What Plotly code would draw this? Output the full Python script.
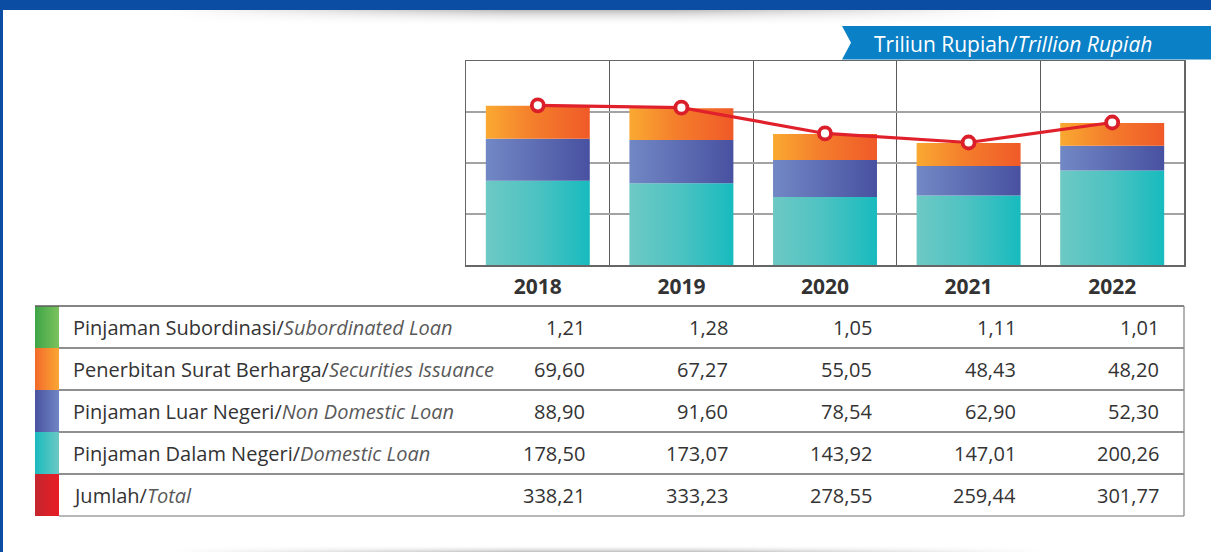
import base64
import plotly.graph_objects as go

# ---------------- data ----------------
years = ["2018", "2019", "2020", "2021", "2022"]
subordinated = [1.21, 1.28, 1.05, 1.11, 1.01]
securities = [69.60, 67.27, 55.05, 48.43, 48.20]
non_domestic = [88.90, 91.60, 78.54, 62.90, 52.30]
domestic = [178.50, 173.07, 143.92, 147.01, 200.26]
total = [338.21, 333.23, 278.55, 259.44, 301.77]

row_labels_id = ["Pinjaman Subordinasi/", "Penerbitan Surat Berharga/",
                 "Pinjaman Luar Negeri/", "Pinjaman Dalam Negeri/", "Jumlah/"]
row_labels_en = ["Subordinated Loan", "Securities Issuance",
                 "Non Domestic Loan", "Domestic Loan", "Total"]
unit_id = "Triliun Rupiah/"
unit_en = "Trillion Rupiah"

# ---------------- style ----------------
W, H = 1211, 552
FONT = "Open Sans"
TXT = "#333333"
TXT_I = "#595959"
HALF = 0.362

def px(x):
    return x / W

def py(y):
    return 1 - y / H

bar_scales = {
    "dom": [[0, "#6DC9C4"], [0.5, "#4CC2C2"], [1, "#17BBBE"]],
    "non": [[0, "#7288C5"], [1, "#4851A0"]],
    "sec": [[0, "#FAA932"], [0.45, "#F47E2C"], [1, "#F05A28"]],
    "sub": [[0, "#5DB85A"], [1, "#5DB85A"]],
}

fig = go.Figure()

def seg(i, y0, y1, cs):
    xs = [i - HALF, i + HALF, i + HALF, i - HALF, i - HALF]
    ys = [y0, y0, y1, y1, y0]
    fig.add_trace(go.Scatter(
        x=xs, y=ys, fill="toself", mode="lines", line=dict(width=0),
        fillcolor=cs[-1][1],
        fillgradient=dict(type="horizontal", colorscale=cs),
        hoverinfo="skip", showlegend=False))

for i in range(len(years)):
    b0 = 0
    b1 = b0 + domestic[i]
    b2 = b1 + non_domestic[i]
    b3 = b2 + securities[i]
    b4 = b3 + subordinated[i]
    seg(i, b0, b1, bar_scales["dom"])
    seg(i, b1, b2, bar_scales["non"])
    seg(i, b2, b3, bar_scales["sec"])
    seg(i, b3, b4, bar_scales["sub"])

fig.add_trace(go.Scatter(
    x=list(range(len(years))), y=total, mode="lines+markers",
    line=dict(color="#E0202A", width=3.2),
    marker=dict(size=12, color="white", line=dict(color="#DA1F2A", width=3.8)),
    showlegend=False, hoverinfo="skip"))

# ---------------- axes ----------------
fig.update_xaxes(
    domain=[px(466), px(1184)], range=[-0.5, 4.5],
    tickvals=list(range(len(years))), ticktext=years,
    tickfont=dict(family=FONT, size=21, color="#333333", weight="bold"),
    ticks="outside", ticklen=2, tickcolor="rgba(0,0,0,0)",
    showgrid=False, zeroline=False,
    showline=True, mirror=True, linecolor="#666666", linewidth=1.5,
    minor=dict(tickvals=[0.5, 1.5, 2.5, 3.5], showgrid=True,
               gridcolor="#5a5a5a", gridwidth=1.3, ticks=""),
    fixedrange=True,
)
fig.update_yaxes(
    domain=[py(265), py(61)], range=[0, 432], dtick=108,
    showticklabels=False, showgrid=True, gridcolor="#a3a3a3", gridwidth=2,
    zeroline=False, showline=True, mirror=True, linecolor="#666666",
    linewidth=1.5, fixedrange=True,
)

shapes = []
annotations = []

# frame
shapes.append(dict(type="rect", xref="paper", yref="paper", x0=0, x1=1,
                   y0=py(10), y1=1, fillcolor="#0B4DA2", line=dict(width=0)))
shapes.append(dict(type="rect", xref="paper", yref="paper", x0=0, x1=px(3),
                   y0=0, y1=1, fillcolor="#0B4DA2", line=dict(width=0)))

# unit tag
path = (f"M {px(842)},{py(26)} L 1,{py(26)} L 1,{py(59.5)} "
        f"L {px(842)},{py(59.5)} L {px(851)},{py(42.75)} Z")
shapes.append(dict(type="path", xref="paper", yref="paper", path=path,
                   fillcolor="#0A80C6", line=dict(width=0)))
annotations.append(dict(
    xref="paper", yref="paper", x=px(872), y=py(44), xanchor="left",
    yanchor="middle", showarrow=False,
    text=f"{unit_id}<i>{unit_en}</i>",
    font=dict(family=FONT, size=21, color="white")))

# table
row_top = 306
row_h = 42
swatch_scales = [
    ("#3DA447", "#7CC35E"),
    ("#F26A2B", "#FBA733"),
    ("#4953A1", "#7186C4"),
    ("#19BBBE", "#6CC8C3"),
    ("#C4262E", "#E91D25"),
]

def hex2rgb(h):
    h = h.lstrip("#")
    return tuple(int(h[k:k + 2], 16) for k in (0, 2, 4))

def mix(a, b, t):
    ra, rb = hex2rgb(a), hex2rgb(b)
    return "rgb(%d,%d,%d)" % tuple(round(ra[k] + (rb[k] - ra[k]) * t) for k in range(3))

NS = 12
sx0, sx1 = 35, 59
for r, (ca, cb) in enumerate(swatch_scales):
    y0 = row_top + r * row_h
    y1 = y0 + row_h
    for s in range(NS):
        xa = sx0 + (sx1 - sx0) * s / NS
        xb = sx0 + (sx1 - sx0) * (s + 1) / NS + 0.6
        shapes.append(dict(type="rect", xref="paper", yref="paper",
                           x0=px(xa), x1=px(min(xb, sx1)), y0=py(y1), y1=py(y0),
                           fillcolor=mix(ca, cb, (s + 0.5) / NS),
                           line=dict(width=0), layer="above"))

# table lines
shapes.append(dict(type="line", xref="paper", yref="paper", x0=px(35), x1=px(1184),
                   y0=py(row_top), y1=py(row_top), line=dict(color="#5c5c5c", width=1.3)))
for r in range(1, 5):
    yy = row_top + r * row_h
    shapes.append(dict(type="line", xref="paper", yref="paper", x0=px(59), x1=px(1184),
                       y0=py(yy), y1=py(yy), line=dict(color="#6a6a6a", width=1.3)))
yb = row_top + 5 * row_h
shapes.append(dict(type="line", xref="paper", yref="paper", x0=px(59), x1=px(1184),
                   y0=py(yb), y1=py(yb), line=dict(color="#a0a0a0", width=1.3)))
shapes.append(dict(type="line", xref="paper", yref="paper", x0=px(1184), x1=px(1184),
                   y0=py(row_top), y1=py(yb), line=dict(color="#8a8a8a", width=1.3)))

table_rows = [subordinated, securities, non_domestic, domestic, total]
for r in range(5):
    yc = row_top + r * row_h + row_h / 2
    annotations.append(dict(
        xref="paper", yref="paper", x=px(71), y=py(yc), xanchor="left",
        yanchor="middle", showarrow=False,
        text=f"{row_labels_id[r]}<span style='color:{TXT_I}'><i>{row_labels_en[r]}</i></span>",
        font=dict(family=FONT, size=20, color=TXT)))
    for i, v in enumerate(table_rows[r]):
        annotations.append(dict(
            xref="x", yref="paper", x=i, xshift=49, y=py(yc), xanchor="right",
            yanchor="middle", showarrow=False,
            text=f"{v:.2f}".replace(".", ","),
            font=dict(family=FONT, size=20, color=TXT)))

# soft shadows
def shadow_svg(down):
    y1, y2 = ("0", "1") if down else ("1", "0")
    svg = f"""<svg xmlns="http://www.w3.org/2000/svg" width="1000" height="100" viewBox="0 0 1000 100" preserveAspectRatio="none">
<defs>
<linearGradient id="v" x1="0" y1="{y1}" x2="0" y2="{y2}"><stop offset="0" stop-color="#ffffff" stop-opacity="0"/><stop offset="1" stop-color="#bdbdbd" stop-opacity="1"/></linearGradient>
<linearGradient id="h" x1="0" y1="0" x2="1" y2="0"><stop offset="0" stop-color="#000"/><stop offset="0.4" stop-color="#fff"/><stop offset="0.6" stop-color="#fff"/><stop offset="1" stop-color="#000"/></linearGradient>
<mask id="m"><rect width="1000" height="100" fill="url(#h)"/></mask>
</defs>
<rect width="1000" height="100" fill="url(#v)" mask="url(#m)"/>
</svg>"""
    return "data:image/svg+xml;base64," + base64.b64encode(svg.encode()).decode()

images = [
    dict(source=shadow_svg(False), xref="paper", yref="paper", x=px(170), y=py(10),
         sizex=px(1010 - 170), sizey=16 / H, sizing="stretch", xanchor="left",
         yanchor="top", layer="below"),
    dict(source=shadow_svg(True), xref="paper", yref="paper", x=px(170), y=py(545),
         sizex=px(1045 - 170), sizey=7 / H, sizing="stretch", xanchor="left",
         yanchor="top", layer="below"),
]

fig.update_layout(
    width=W, height=H, margin=dict(l=0, r=0, t=0, b=0),
    paper_bgcolor="white", plot_bgcolor="white",
    shapes=shapes, annotations=annotations, images=images,
    font=dict(family=FONT, color=TXT), showlegend=False,
)

fig.write_html(
    "out.html",
    config={"displayModeBar": False, "staticPlot": True},
    post_script="document.body.style.margin='0';document.body.style.padding='0';"
                "document.body.style.overflow='hidden';",
)
